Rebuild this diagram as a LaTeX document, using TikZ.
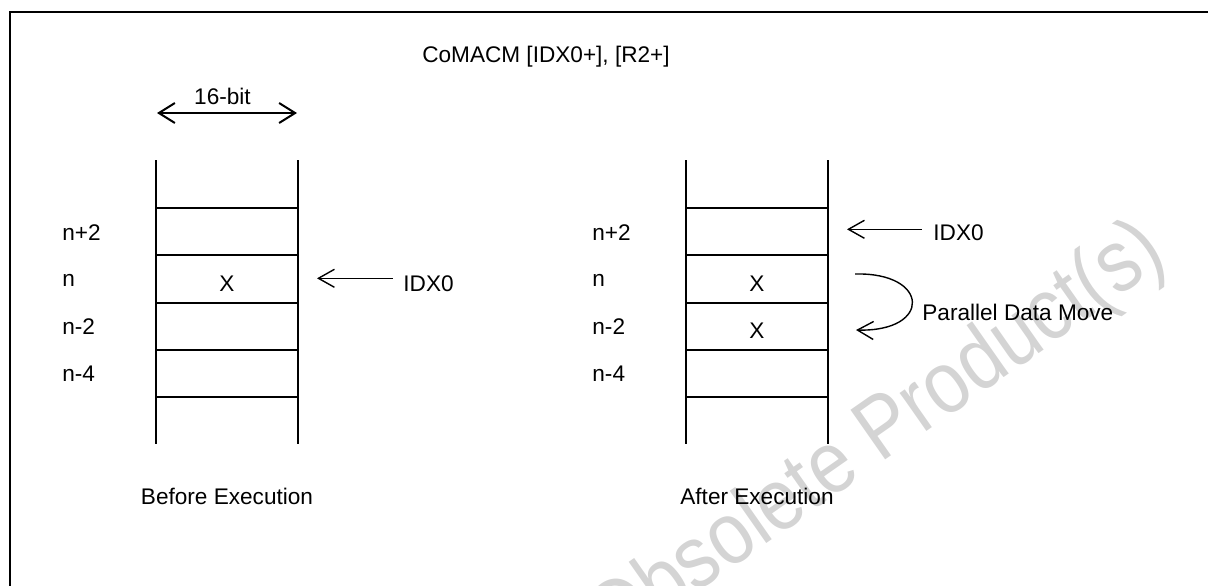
\documentclass[tikz,border=0pt]{standalone}
\usepackage{fontspec}
\setmainfont{Liberation Sans}
\usetikzlibrary{arrows.meta, positioning, calc}

\begin{document}
\begin{tikzpicture}[
    x = 0.5pt, y = -0.5pt,
    txt/.style   = {inner sep=0pt, font=\fontsize{11.3}{13}\selectfont},
    wall/.style  = {line width=1pt},
    ptr/.style   = {{Straight Barb[length=8pt, width=9pt]}-, line width=0.7pt},
    move/.style  = {-{Straight Barb[length=8pt, width=9pt]}, line width=0.7pt},
    span/.style  = {{Straight Barb[length=8pt, width=10pt]}-{Straight Barb[length=8pt, width=10pt]},
                    line width=1pt},
    wmark/.style = {inner sep=0pt, font=\fontsize{44}{52}\selectfont,
                    text=black!17, rotate=35, xscale=0.87, anchor=base west}
  ]
  \useasboundingbox (0,0) rectangle (1208,585);
  \node[wmark] (wm) at (612,652) {Obsolete Product(s)};
  \draw[wall] (1212,12) -- (10,12) -- (10,590);

  \node[txt, anchor=base] (title) at (546,62) {CoMACM [IDX0+], [R2+]};

  \foreach \sx in {156, 686} {
    \draw[wall] (\sx,160) -- (\sx,444) (\sx+142,160) -- (\sx+142,444);
    \foreach \ry in {208, 255.25, 302.5, 349.75, 397}
      \draw[wall] (\sx,\ry) -- (\sx+142,\ry);
  }
  \foreach \sx in {62, 592}
    \foreach \ry/\lab in {240/n+2, 286/n, 334/n-2, 381/n-4}
      \node[txt, anchor=base west] (row-\sx-\ry) at (\sx,\ry) {\lab};

  \coordinate (wl) at (157,113);
  \coordinate (wr) at (297,113);
  \draw[span] (wl) -- (wr);
  \node[txt, anchor=base] (bits) at (222.5,104) {16-bit};

  \node[txt, anchor=base] (xb)  at (227,291) {X};
  \node[txt, anchor=base] (xa1) at (757,291) {X};
  \node[txt, anchor=base] (xa2) at (757,338) {X};

  \node[txt, anchor=base west] (idxb) at (403,291) {IDX0};
  \coordinate (tipb) at (317,278.3);
  \draw[ptr] (tipb) -- ($(tipb -| idxb.west)+(-10,0)$);

  \node[txt, anchor=base west] (idxa) at (933,240.7) {IDX0};
  \coordinate (tipa) at (847,229.3);
  \draw[ptr] (tipa) -- ($(tipa -| idxa.west)+(-11,0)$);

  \coordinate (mvs) at (855,274);
  \coordinate (mve) at (856,330);
  \draw[move] (mvs) .. controls (930,272) and (932,332) .. (mve);
  \node[txt, anchor=base west] (pdm) at (922,320.7) {Parallel Data Move};

  \node[txt, anchor=base] (before) at (227,504) {Before Execution};
  \node[txt, anchor=base] (after)  at (757,504) {After Execution};
\end{tikzpicture}
\end{document}
